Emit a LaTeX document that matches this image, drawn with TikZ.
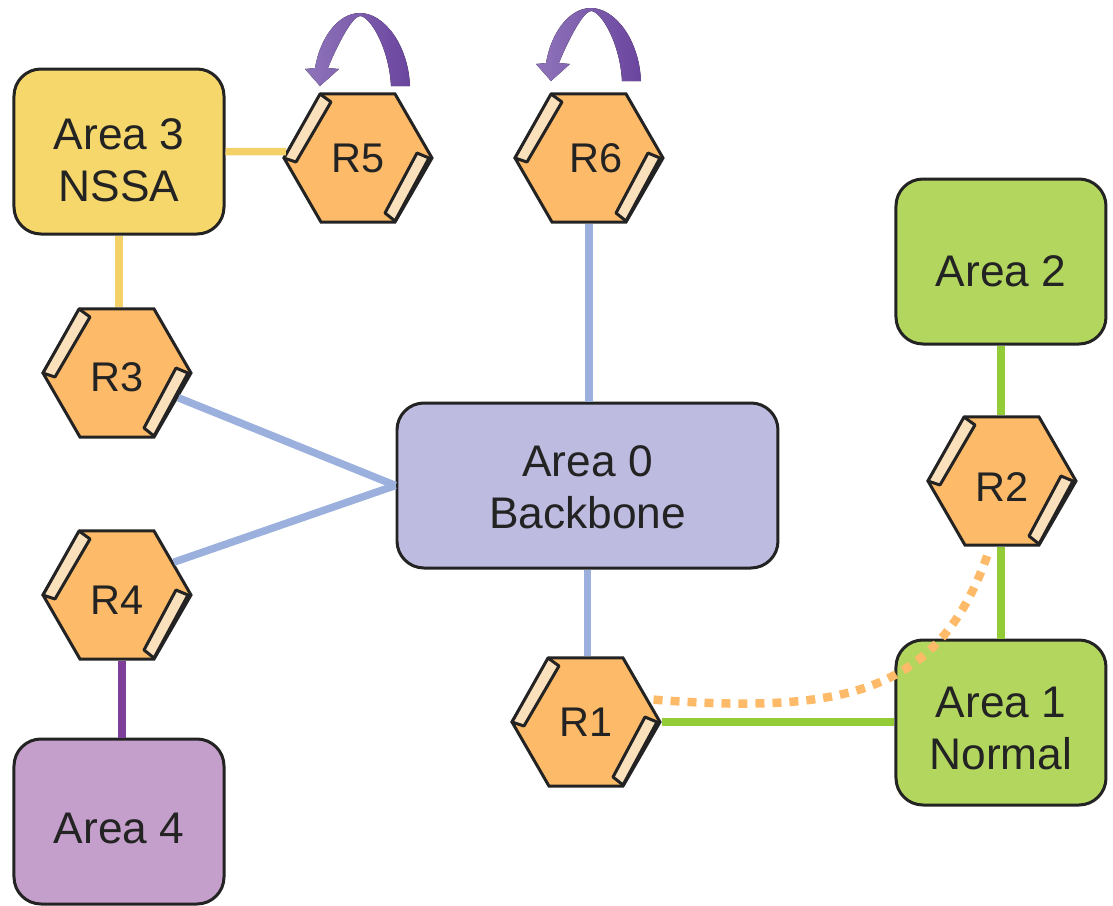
\documentclass[tikz,border=0pt]{standalone}
\usepackage{fontspec}
\setmainfont{Liberation Sans}
\usetikzlibrary{shapes.geometric}

\definecolor{hexorange}{HTML}{FDBB69}
\definecolor{portcream}{HTML}{FBE0BC}
\definecolor{edgeblack}{HTML}{232323}
\definecolor{areablue}{HTML}{BDBBDF}
\definecolor{areayellow}{HTML}{F6D76B}
\definecolor{areagreen}{HTML}{B2D65E}
\definecolor{areapurple}{HTML}{C59FCB}
\definecolor{linkblue}{HTML}{9BB0DD}
\definecolor{linkyellow}{HTML}{F4D166}
\definecolor{linkgreen}{HTML}{94CC37}
\definecolor{linkpurple}{HTML}{7E3F98}
\definecolor{arrowlight}{HTML}{8F74BA}
\definecolor{arrowdark}{HTML}{6A459E}

\tikzset{
    areabox/.style={draw=edgeblack, text=edgeblack, line width=0.03cm, rounded corners=0.27cm, minimum width=2.1cm, minimum height=1.65cm, align=center, inner sep=0, font=\fontsize{12.6}{14.8}\selectfont},
    routerhex/.style={draw=edgeblack, text=edgeblack, fill=hexorange, line width=0.03cm, shape=regular polygon, regular polygon sides=6, minimum size=1.48cm, inner sep=0, font=\fontsize{11.8}{14}\selectfont},
    portbar/.style={draw=edgeblack, fill=portcream, line width=0.03cm, line join=round},
    link/.style={line width=0.075cm},
    loopmark/.style={left color=arrowlight, right color=arrowdark, draw=none}
}

% router: extra options, name, position, label
\newcommand{\router}[4][]{
    \node[routerhex, #1] (#2) at (#3) {#4};
    \begin{scope}[shift={(#2)}]
        \draw[portbar] (-0.38,0.64) -- (-0.27,0.56) -- (-0.62,-0.04) -- (-0.74,0) -- cycle;
        \draw[portbar] (0.59,0.05) -- (0.71,0) -- (0.37,-0.63) -- (0.27,-0.55) -- cycle;
    \end{scope}
}
% curved arrow above a router: name, vertical offset
\newcommand{\loopmark}[2]{
    \fill[loopmark, shift={(#1)}, yshift=#2]
        (0.52,0.72) .. controls (0.50,1.15) and (0.25,1.45) .. (0.02,1.45)
        .. controls (-0.20,1.45) and (-0.38,1.20) .. (-0.43,0.90)
        -- (-0.53,0.89) -- (-0.38,0.72) -- (-0.19,0.89) -- (-0.30,0.90)
        .. controls (-0.22,1.10) and (-0.06,1.42) .. (0.02,1.42)
        .. controls (0.12,1.42) and (0.31,1.10) .. (0.33,0.72) -- cycle;
}

\begin{document}
\begin{tikzpicture}
    \useasboundingbox (0,0) rectangle (11.13,9.05);

    % Areas
    \node[areabox, fill=areayellow, text height=28.3pt] (area3) at (1.19,7.535) {Area 3\\NSSA};
    \node[areabox, fill=areapurple, text height=12.4pt] (area4) at (1.19,0.835) {Area 4};
    \node[areabox, fill=areagreen, text height=14.1pt] (area2) at (10.01,6.435) {Area 2};
    \node[areabox, fill=areagreen, text height=26.6pt] (area1) at (10.01,1.825) {Area 1\\Normal};
    \node[areabox, fill=areablue, minimum width=3.81cm, text height=24.6pt] (area0) at (5.875,4.195) {Area 0\\Backbone};

    % Routers
    \router{r5}{3.58,7.47}{R5}
    \router{r6}{5.89,7.47}{\hspace*{0.14cm}R6}
    \router[text height=10.7pt]{r3}{1.17,5.32}{R3}
    \router[text height=11.3pt]{r4}{1.17,3.10}{R4}
    \router[text height=11.9pt]{r2}{10.02,4.24}{R2}
    \router{r1}{5.86,1.83}{R1}

    % Links
    \draw[link, linkyellow] (area3.east) -- (r5.175);
    \draw[link, linkyellow] (area3.south) -- (area3.south |- r3.north);
    \draw[link, linkblue] (r6.south) -- (r6.south |- area0.north);
    \draw[link, linkblue] (r3) -- (area0.west);
    \draw[link, linkblue] (r4.30) -- (area0.west);
    \draw[link, linkblue] (area0.south) -- (area0.south |- r1.north);
    \draw[link, linkpurple] ([xshift=0.03cm]area4.north) -- ([xshift=0.03cm]area4.north |- r4.south);
    \draw[link, linkgreen] (area2.south) -- (area2.south |- r2.north);
    \draw[link, linkgreen] (area1.north) -- (area1.north |- r2.south);
    \draw[link, linkgreen] (r1.east) -- (area1.west |- r1.east);

    % Dotted path
    \draw[line width=0.085cm, hexorange, dash pattern=on 0.09cm off 0.08cm, shorten <=0.05cm, shorten >=0.08cm]
        (r1.20) .. controls (8.50,1.90) and (9.40,2.15) .. (r2.260);

    % Curved arrows
    \loopmark{r5}{0cm}
    \loopmark{r6}{0.05cm}
\end{tikzpicture}
\end{document}
